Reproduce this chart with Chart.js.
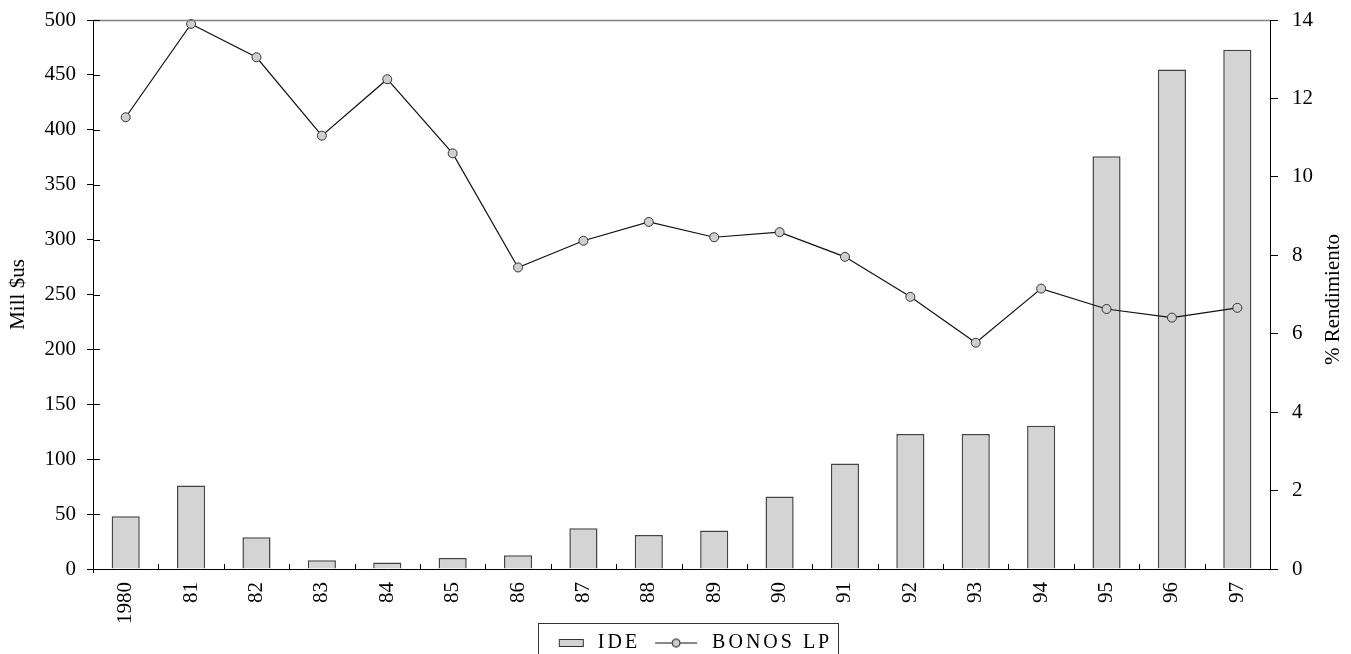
<!DOCTYPE html>
<html>
<head>
<meta charset="utf-8">
<script src="https://cdn.jsdelivr.net/npm/chart.js@4.4.1/dist/chart.umd.min.js"></script>
<style>
  html, body { margin: 0; padding: 0; background: #fff; overflow: hidden; }
  #wrap { width: 1351px; height: 654px; overflow: hidden; }
  canvas { display: block; }
</style>
</head>
<body>
<div id="wrap"><canvas id="c" width="1351" height="663"></canvas></div>
<script>
const categories = ['1980','81','82','83','84','85','86','87','88','89','90','91','92','93','94','95','96','97'];
const ideValues = [48, 76, 29, 8, 6, 10, 12.5, 37, 31, 35, 66, 96, 123, 123, 130.5, 376, 455, 473];
const bonosValues = [11.52, 13.9, 13.05, 11.05, 12.49, 10.6, 7.69, 8.37, 8.85, 8.46, 8.59, 7.96, 6.94, 5.77, 7.15, 6.63, 6.41, 6.66];
const leftTitle = 'Mill $us';
const rightTitle = '% Rendimiento';
const seriesNames = ['IDE', 'BONOS LP'];

const FONT = "'Liberation Serif', 'Times New Roman', serif";
const BAR_FILL = '#d4d4d4';
const BAR_BORDER = '#444444';
const PT_FILL = '#cfcfcf';
const ICON_W = 52;

// legend symbols
function makeBarIcon() {
  const c = document.createElement('canvas');
  c.width = ICON_W; c.height = 10;
  const g = c.getContext('2d');
  g.fillStyle = BAR_FILL; g.fillRect(23.5, 1.5, 24, 7);
  g.strokeStyle = '#333'; g.lineWidth = 1; g.strokeRect(23.5, 1.5, 24, 7);
  return c;
}
function makeLineIcon() {
  const c = document.createElement('canvas');
  c.width = ICON_W; c.height = 11;
  const g = c.getContext('2d');
  g.strokeStyle = '#111'; g.lineWidth = 1;
  g.beginPath(); g.moveTo(5, 5.5); g.lineTo(47, 5.5); g.stroke();
  g.beginPath(); g.arc(26, 5.5, 4, 0, Math.PI * 2);
  g.fillStyle = PT_FILL; g.fill(); g.stroke();
  return c;
}
const barIcon = makeBarIcon();
const lineIcon = makeLineIcon();

const decor = {
  id: 'decor',
  afterInit(chart) {
    const lg = chart.legend;
    if (!lg) return;
    const fit = lg.fit.bind(lg);
    const draw = lg.draw.bind(lg);
    lg.fit = function () { const ctx = chart.ctx; ctx.save(); ctx.letterSpacing = '3px'; fit(); ctx.restore(); };
    lg.draw = function (a) { const ctx = chart.ctx; ctx.save(); ctx.letterSpacing = '3px'; draw(a); ctx.restore(); };
  },
  afterDraw(chart) {
    const { ctx, chartArea: { left, right, top, bottom }, scales } = chart;
    const x = scales.x, y = scales.y;
    ctx.save();
    // top frame line
    ctx.strokeStyle = '#808080'; ctx.lineWidth = 1.3;
    ctx.beginPath(); ctx.moveTo(left, Math.round(top) + 0.5); ctx.lineTo(right, Math.round(top) + 0.5); ctx.stroke();
    // inward category ticks
    ctx.strokeStyle = '#000'; ctx.lineWidth = 1;
    for (let i = 1; i < categories.length; i++) {
      const px = Math.round((x.getPixelForValue(i - 1) + x.getPixelForValue(i)) / 2) + 0.5;
      ctx.beginPath(); ctx.moveTo(px, bottom); ctx.lineTo(px, bottom - 5); ctx.stroke();
    }
    // inward left ticks
    y.ticks.forEach(t => {
      const py = Math.round(y.getPixelForValue(t.value)) + 0.5;
      ctx.beginPath(); ctx.moveTo(left, py); ctx.lineTo(left + 7, py); ctx.stroke();
    });
    // small extension of left axis below
    ctx.beginPath(); ctx.moveTo(Math.round(left) + 0.5, bottom); ctx.lineTo(Math.round(left) + 0.5, bottom + 4); ctx.stroke();
    // axis titles
    ctx.fillStyle = '#000';
    ctx.font = '21px ' + FONT;
    ctx.textAlign = 'center'; ctx.textBaseline = 'middle';
    ctx.save(); ctx.translate(18, (top + bottom) / 2); ctx.rotate(-Math.PI / 2); ctx.fillText(leftTitle, 0, 0); ctx.restore();
    ctx.save(); ctx.translate(1333, (top + bottom) / 2 + 5); ctx.rotate(-Math.PI / 2); ctx.fillText(rightTitle, 0, 0); ctx.restore();
    // legend frame
    const lg = chart.legend;
    if (lg && lg.legendHitBoxes && lg.legendHitBoxes.length) {
      const hb = lg.legendHitBoxes;
      const l = hb[0].left + 2;
      const last = hb[hb.length - 1];
      const r = last.left + last.width + 6;
      ctx.strokeStyle = '#333'; ctx.lineWidth = 1;
      ctx.strokeRect(Math.round(l) + 0.5, 623.5, Math.round(r - l), 80);
    }
    ctx.restore();
  }
};

function noPad(s) { s.paddingTop = 0; s.paddingBottom = 0; }

new Chart(document.getElementById('c'), {
  data: {
    labels: categories,
    datasets: [
      {
        type: 'line',
        label: seriesNames[1],
        data: bonosValues,
        yAxisID: 'y1',
        order: 0,
        borderColor: '#111',
        borderWidth: 1.2,
        pointRadius: 4.5,
        pointBackgroundColor: PT_FILL,
        pointBorderColor: '#333',
        pointBorderWidth: 1,
        tension: 0,
        clip: false
      },
      {
        type: 'bar',
        label: seriesNames[0],
        data: ideValues,
        yAxisID: 'y',
        order: 1,
        backgroundColor: BAR_FILL,
        borderColor: BAR_BORDER,
        borderWidth: 1.5,
        borderSkipped: 'bottom',
        categoryPercentage: 1,
        barPercentage: 0.43
      }
    ]
  },
  options: {
    responsive: false,
    animation: false,
    devicePixelRatio: 1,
    layout: { padding: { top: 20, left: 17, right: 0, bottom: 0 } },
    plugins: {
      tooltip: { enabled: false },
      legend: {
        position: 'bottom',
        labels: {
          usePointStyle: true,
          pointStyleWidth: ICON_W,
          padding: 10,
          color: '#000',
          font: { family: FONT, size: 20 },
          generateLabels: () => [
            { text: seriesNames[0], pointStyle: barIcon, datasetIndex: 1, fillStyle: BAR_FILL, strokeStyle: '#333', lineWidth: 1, hidden: false, fontColor: '#000' },
            { text: seriesNames[1], pointStyle: lineIcon, datasetIndex: 0, fillStyle: PT_FILL, strokeStyle: '#111', lineWidth: 1, hidden: false, fontColor: '#000' }
          ]
        }
      }
    },
    scales: {
      x: {
        type: 'category',
        offset: true,
        grid: { display: false, drawTicks: false },
        border: { display: true, color: '#000', width: 1 },
        ticks: {
          color: '#000',
          font: { family: FONT, size: 21 },
          maxRotation: 90, minRotation: 90,
          autoSkip: false,
          padding: 13
        },
        afterFit(s) { s.height = 54; }
      },
      y: {
        position: 'left',
        min: 0, max: 500,
        ticks: { stepSize: 50, color: '#000', font: { family: FONT, size: 21 }, padding: 11 },
        grid: { drawOnChartArea: false, drawTicks: true, tickLength: 6, color: '#000' },
        border: { display: true, color: '#000', width: 1 },
        afterFit(s) { s.width = 76; noPad(s); }
      },
      y1: {
        position: 'right',
        min: 0, max: 14,
        ticks: { stepSize: 2, color: '#000', font: { family: FONT, size: 21 }, padding: 14 },
        grid: { drawOnChartArea: false, drawTicks: true, tickLength: 8, color: '#000' },
        border: { display: true, color: '#000', width: 1 },
        afterFit(s) { s.width = 81; noPad(s); }
      }
    }
  },
  plugins: [decor]
});
</script>
</body>
</html>
